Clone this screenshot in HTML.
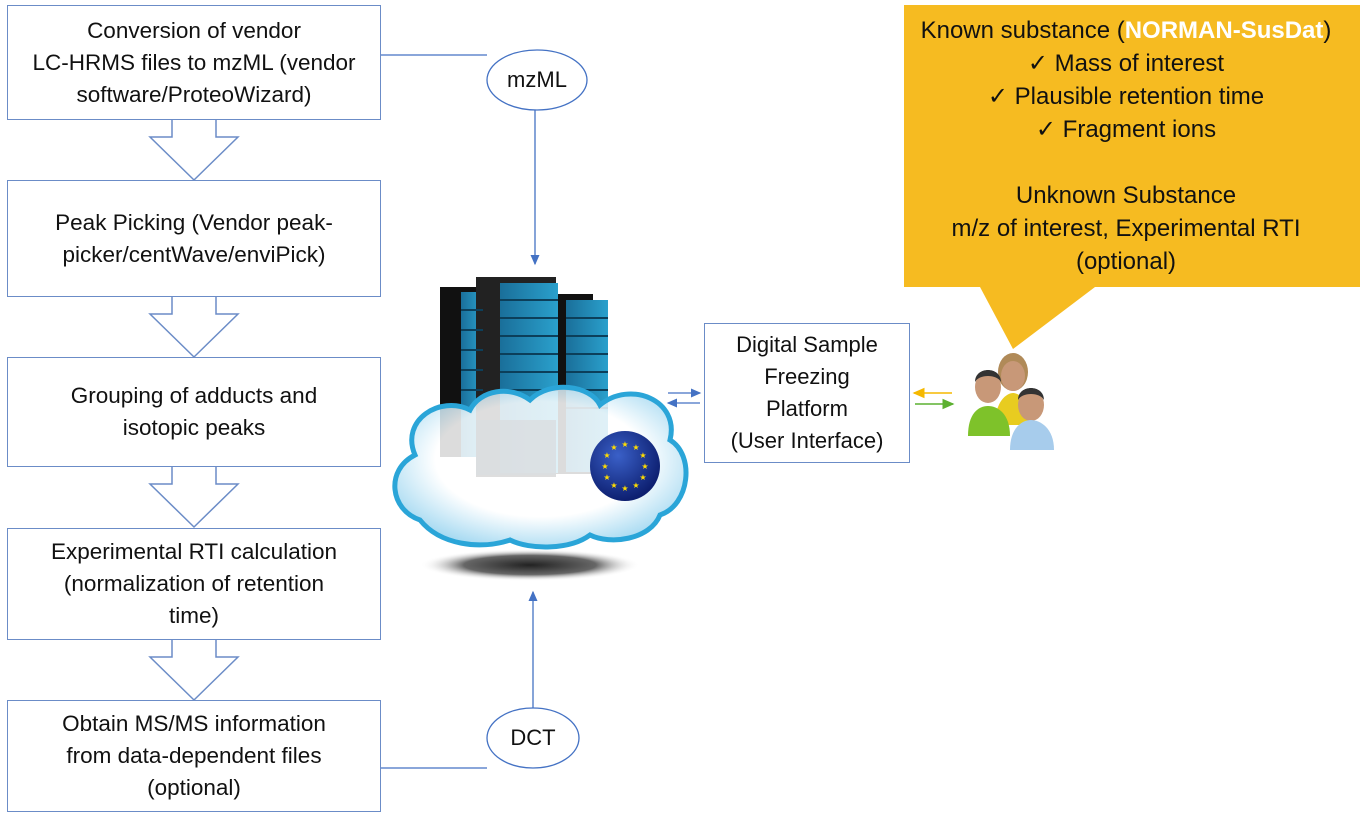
<!DOCTYPE html>
<html><head><meta charset="utf-8"><style>
body{margin:0;width:1370px;height:818px;background:#fff;position:relative;overflow:hidden;font-family:"Liberation Sans",sans-serif;color:#111}
.box{position:absolute;left:7px;width:374px;border:1.5px solid #6b8cc7;box-sizing:border-box;display:flex;align-items:center;justify-content:center;text-align:center;font-size:22.5px;line-height:32px;background:#fff}
.t{position:absolute;text-align:center;font-size:22px}
</style></head><body>
<svg width="1370" height="818" style="position:absolute;left:0;top:0">
<defs>
<marker id="ab" markerWidth="8" markerHeight="8" refX="7" refY="4" orient="auto"><path d="M0,0.5L8,4L0,7.5z" fill="#4472c4"/></marker>
<marker id="ay" markerWidth="8" markerHeight="8" refX="7" refY="4" orient="auto"><path d="M0,0.5L8,4L0,7.5z" fill="#f5b800"/></marker>
<marker id="ag" markerWidth="8" markerHeight="8" refX="7" refY="4" orient="auto"><path d="M0,0.5L8,4L0,7.5z" fill="#5cb030"/></marker>
<radialGradient id="cl" cx="50%" cy="45%" r="60%"><stop offset="0.6" stop-color="#fff"/><stop offset="1" stop-color="#8fd0ee"/></radialGradient>
<radialGradient id="sh" cx="50%" cy="50%" r="50%"><stop offset="0" stop-color="#222"/><stop offset="0.6" stop-color="#666"/><stop offset="1" stop-color="#fff" stop-opacity="0"/></radialGradient>
<radialGradient id="eu" cx="40%" cy="35%" r="65%"><stop offset="0" stop-color="#3a60c8"/><stop offset="1" stop-color="#0d1f70"/></radialGradient>
<linearGradient id="rk" x1="0" x2="1"><stop offset="0" stop-color="#1a6f9a"/><stop offset="1" stop-color="#2aa0cc"/></linearGradient>
</defs>
<g fill="#fff" stroke="#6b8cc7" stroke-width="1.5">
<path d="M172,119V137H150L194,180L238,137H216V119"/>
<path d="M172,296V314H150L194,357L238,314H216V296"/>
<path d="M172,466V484H150L194,527L238,484H216V466"/>
<path d="M172,639V657H150L194,700L238,657H216V639"/>
</g>
<g stroke="#4472c4" stroke-width="1.3" fill="none">
<line x1="381" y1="55" x2="487" y2="55"/>
<line x1="535" y1="110" x2="535" y2="264" marker-end="url(#ab)"/>
<line x1="381" y1="768" x2="487" y2="768"/>
<line x1="533" y1="708" x2="533" y2="592" marker-end="url(#ab)"/>
<line x1="668" y1="393" x2="700" y2="393" marker-end="url(#ab)"/>
<line x1="700" y1="403" x2="668" y2="403" marker-end="url(#ab)"/>
</g>
<line x1="952" y1="393" x2="914" y2="393" stroke="#f5b800" stroke-width="1.5" marker-end="url(#ay)"/>
<line x1="915" y1="404" x2="953" y2="404" stroke="#5cb030" stroke-width="1.5" marker-end="url(#ag)"/>
<ellipse cx="537" cy="80" rx="50" ry="30" fill="#fff" stroke="#4472c4" stroke-width="1.3"/>
<ellipse cx="533" cy="738" rx="46" ry="30" fill="#fff" stroke="#4472c4" stroke-width="1.3"/>
<path d="M904,5H1360V287H1095L1013,349L980,287H904Z" fill="#f6bb21"/>
<ellipse cx="530" cy="565" rx="110" ry="16" fill="url(#sh)"/>
<g>
<rect x="440" y="287" width="36" height="170" fill="#111"/>
<rect x="461" y="292" width="22" height="165" fill="url(#rk)"/>
<rect x="553" y="294" width="40" height="180" fill="#111"/>
<rect x="566" y="300" width="42" height="172" fill="url(#rk)"/>
<rect x="476" y="277" width="80" height="200" fill="#222"/>
<rect x="500" y="283" width="58" height="190" fill="url(#rk)"/>
<g stroke="#0c3f5a" stroke-width="2">
<line x1="500" y1="300" x2="558" y2="300"/><line x1="500" y1="318" x2="558" y2="318"/><line x1="500" y1="336" x2="558" y2="336"/><line x1="500" y1="354" x2="558" y2="354"/><line x1="500" y1="372" x2="558" y2="372"/><line x1="500" y1="390" x2="558" y2="390"/>
<line x1="566" y1="318" x2="608" y2="318"/><line x1="566" y1="336" x2="608" y2="336"/><line x1="566" y1="354" x2="608" y2="354"/><line x1="566" y1="372" x2="608" y2="372"/><line x1="566" y1="390" x2="608" y2="390"/><line x1="566" y1="408" x2="608" y2="408"/>
<line x1="461" y1="310" x2="483" y2="310"/><line x1="461" y1="330" x2="483" y2="330"/><line x1="461" y1="350" x2="483" y2="350"/><line x1="461" y1="370" x2="483" y2="370"/><line x1="461" y1="390" x2="483" y2="390"/>
</g>
</g>
<path d="M420,520C390,510 385,470 415,455C400,420 440,395 470,410C480,390 510,385 530,400C550,380 590,385 600,405C630,380 680,400 670,440C695,455 690,505 660,515C650,540 610,545 590,535C570,550 530,550 510,540C480,550 440,545 420,520Z" fill="url(#cl)" fill-opacity="0.85" stroke="#2aa5d8" stroke-width="5"/>
<rect x="476" y="420" width="80" height="55" fill="#d9dde0" opacity="0.8"/>
<circle cx="625" cy="466" r="35" fill="url(#eu)"/>
<g fill="#ffdd00" font-size="8" text-anchor="middle">
<text x="625" y="447">★</text><text x="636" y="450">★</text><text x="643" y="458">★</text><text x="645" y="469">★</text><text x="643" y="480">★</text><text x="636" y="488">★</text><text x="625" y="491">★</text><text x="614" y="488">★</text><text x="607" y="480">★</text><text x="605" y="469">★</text><text x="607" y="458">★</text><text x="614" y="450">★</text>
</g>
<g>
<ellipse cx="1013" cy="372" rx="15" ry="19" fill="#b08a58"/>
<path d="M995,425c0-24 12-32 18-32s18,8 18,32z" fill="#e8cc20"/>
<ellipse cx="1013" cy="376" rx="12" ry="15" fill="#c89878"/>
<ellipse cx="988" cy="387" rx="13" ry="16" fill="#c89878"/>
<path d="M975,382c0-16 26-16 26,0c-4-8-22-8-26,0z" fill="#333"/>
<path d="M968,436c0-22 10-30 20-30s22,8 22,30z" fill="#7ec22a"/>
<ellipse cx="1031" cy="405" rx="13" ry="16" fill="#c89878"/>
<path d="M1018,400c0-16 26-16 26,0c-4-8-22-8-26,0z" fill="#333"/>
<path d="M1010,450c0-22 12-30 21-30s23,8 23,30z" fill="#a7ccec"/>
</g>
</svg>
<div class="box" style="top:5px;height:115px">Conversion of vendor<br>LC-HRMS files to mzML (vendor<br>software/ProteoWizard)</div>
<div class="box" style="top:180px;height:117px">Peak Picking (Vendor peak-<br>picker/centWave/enviPick)</div>
<div class="box" style="top:357px;height:110px">Grouping of adducts and<br>isotopic peaks</div>
<div class="box" style="top:528px;height:112px">Experimental RTI calculation<br>(normalization of retention<br>time)</div>
<div class="box" style="top:700px;height:112px">Obtain MS/MS information<br>from data-dependent files<br>(optional)</div>
<div class="t" style="left:487px;top:67px;width:100px">mzML</div>
<div class="t" style="left:487px;top:725px;width:92px">DCT</div>
<div class="box" style="left:704px;top:323px;width:206px;height:140px;line-height:32px;font-size:22px">Digital Sample<br>Freezing<br>Platform<br>(User Interface)</div>
<div class="t" style="left:904px;top:14px;width:444px;font-size:24px;line-height:33px">Known substance (<b style="color:#fff">NORMAN-SusDat</b>)<br>✓ Mass of interest<br>✓ Plausible retention time<br>✓ Fragment ions<br><br>Unknown Substance<br>m/z of interest, Experimental RTI<br>(optional)</div>
</body></html>
